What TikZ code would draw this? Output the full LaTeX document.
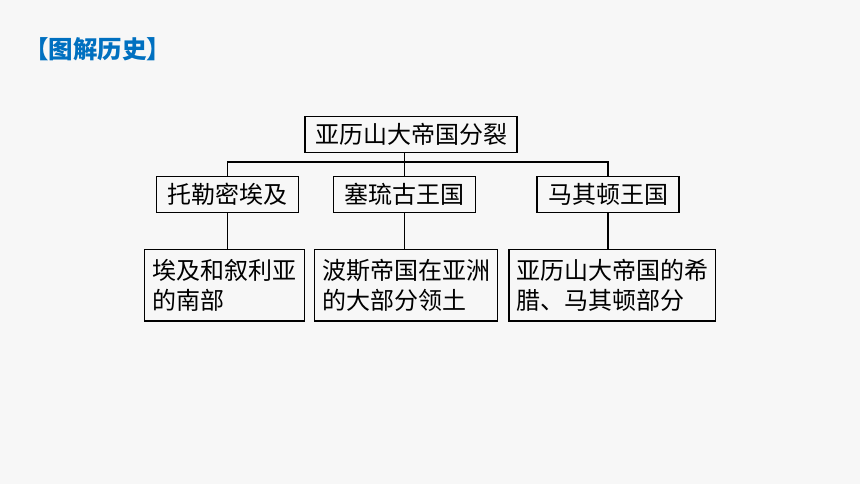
\documentclass[tikz,border=0pt]{standalone}
\usepackage{fontspec}
\newfontfamily\cjk{Noto Sans CJK SC}
\definecolor{titleblue}{RGB}{0,112,192}
\definecolor{paper}{RGB}{247,247,247}

\begin{document}
\begin{tikzpicture}[x=1pt, y=-1pt,
        box/.style = {draw=black, line width=1.5pt, inner sep=0pt,
            font=\cjk\fontsize{24}{30.6}\selectfont},
        kingdom/.style = {box, minimum width=142pt, minimum height=36pt},
        region/.style = {box, align=left, minimum height=71.6pt},
        link/.style = {black, line width=1.5pt}]
            \fill[paper] (0,0) rectangle (860,484);
            \node[anchor=west, inner sep=0pt, text=titleblue,
                font=\cjk\bfseries\fontsize{24.5}{28}\selectfont] (title) at (24,49.5) {【图解历史】};
            \node[box, minimum width=212pt, minimum height=36pt] (split) at (411,134.5) {亚历山大帝国分裂};
            \node[kingdom] (ptolemy) at (227.5,194.7) {托勒密埃及};
            \node[kingdom] (seleucid) at (404.7,194.7) {塞琉古王国};
            \node[kingdom] (macedon) at (608,194.7) {马其顿王国};
            \node[region, minimum width=160pt] (egypt) at (224.3,285.2) {埃及和叙利亚\\的南部};
            \node[region, minimum width=182.6pt] (asia) at (406,285.2) {波斯帝国在亚洲\\的大部分领土};
            \node[region, minimum width=206.6pt] (greece) at (612.2,285.2) {亚历山大帝国的希\\腊、马其顿部分};
            \draw[link] (ptolemy.north) -- ++(0,-13.7) -| (macedon.north);
            \draw[link] (split.south -| seleucid.north) -- (seleucid.north);
            \draw[link] (ptolemy.south) -- (ptolemy.south |- egypt.north);
            \draw[link] (seleucid.south) -- (seleucid.south |- asia.north);
            \draw[link] (macedon.south) -- (macedon.south |- greece.north);
        \end{tikzpicture}
\end{document}
